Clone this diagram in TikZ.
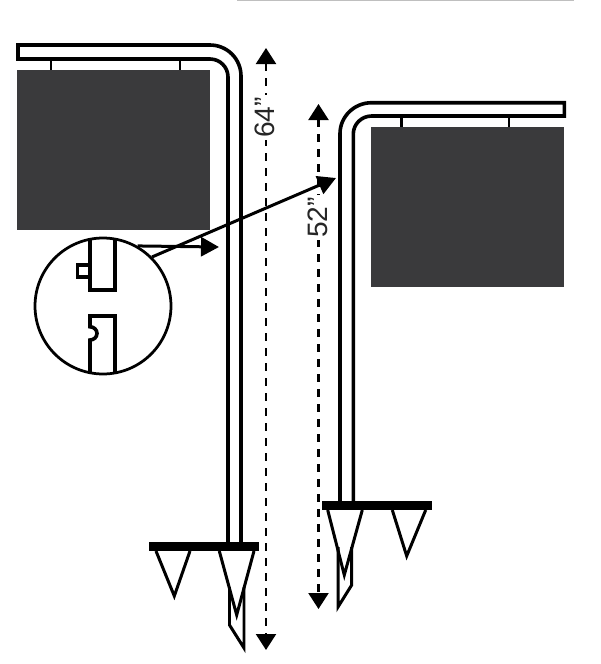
\documentclass[tikz,border=0pt]{standalone}
\usepackage{fontspec}
\setmainfont{Liberation Sans}
\usetikzlibrary{arrows.meta}
\definecolor{boardgray}{HTML}{3A3A3C}
\begin{document}
\begin{tikzpicture}
		[x=0.02cm,y=-0.02cm,
		pipe/.style={line width=0.072cm,black,line join=miter},
		hanger/.style={line width=0.05cm,black},
		spike/.style={line width=0.06cm,black,line join=miter},
		board/.style={rectangle,fill=boardgray,inner sep=0pt,minimum width=3.86cm,minimum height=3.2cm},
		plate/.style={rectangle,fill=black,inner sep=0pt,minimum width=2.2cm,minimum height=0.18cm},
		detail/.style={circle,draw=black,line width=0.055cm,inner sep=0pt,minimum size=2.72cm},
		dimline/.style={{Triangle[length=0.32cm,width=0.4cm]}-{Triangle[length=0.32cm,width=0.4cm]},line width=0.045cm,dash pattern=on 0.15cm off 0.15cm},
		dimtext/.style={rotate=90,fill=white,inner sep=1pt,text=black!85,font=\fontsize{16}{16}\selectfont},
		pointer/.style={-{Triangle[length=0.36cm,width=0.38cm]},line width=0.06cm,black}]
		\useasboundingbox (0,0) rectangle (600,664);
		\draw[black!25,line width=0.03cm] (237,0.5) -- (574,0.5);
		% left sign
		\node at (113.8,150) (boardL) [board] {};
		\draw[hanger] (51,59) -- (51,70);
		\draw[hanger] (180,59) -- (180,70);
		\draw[pipe] (228,543) -- (228,77) arc [start angle=0,end angle=90,x radius=18,y radius=-18] -- (18,59) -- (18,45) -- (210,45) arc [start angle=90,end angle=0,x radius=31,y radius=-31] -- (241,543);
		\node at (204.3,546.2) (plateL) [plate] {};
		\draw[spike] (229.5,587) -- (229.5,625) -- (244,648) -- (244,587);
		\draw[spike] (156,551) -- (174.3,596) -- (190,551);
		\draw[spike] (219.3,551) -- (236.7,615) -- (254,551);
		% right sign
		\node at (467.7,207.2) (boardR) [board] {};
		\draw[hanger] (401.7,116) -- (401.7,127);
		\draw[hanger] (509,116) -- (509,127);
		\draw[pipe] (353.3,502) -- (353.3,134) arc [start angle=180,end angle=90,x radius=18.4,y radius=-18] -- (564.3,116) -- (564.3,102.7) -- (371.7,102.7) arc [start angle=90,end angle=180,x radius=31.7,y radius=-31] -- (340,502);
		\node at (377.3,505.3) (plateR) [plate] {};
		\draw[spike] (338,547) -- (338,607) -- (351.7,585) -- (351.7,547);
		\draw[spike] (327.7,510) -- (344.3,575) -- (362.3,510);
		\draw[spike] (392.3,510) -- (406.7,556) -- (425.7,510);
		% heights
		\coordinate (topL) at (266,48);
		\coordinate (botL) at (266,650);
		\coordinate (topR) at (318.5,104);
		\coordinate (botR) at (318.5,609);
		\draw[dimline] (topL) -- (botL);
		\draw[dimline] (topR) -- (botR);
		\node at (265,117.5) (heightL) [dimtext] {64”};
		\node at (317.5,217.5) (heightR) [dimtext] {52”};
		% detail circle
		\node at (103,306) (detailC) [detail] {};
		\draw[pipe] (90,239.5) -- (90,290) -- (115,290) -- (115,239.5);
		\draw[pipe] (90,265) -- (77.5,265) -- (77.5,277) -- (90,277);
		\draw[pipe] (90,372.5) -- (90,340) arc [start angle=-90,end angle=90,x radius=7,y radius=-6.6] -- (90,316) -- (115,316) -- (115,372.5);
		\coordinate (tipA) at (219,247);
		\coordinate (tipB) at (336,178);
		\draw[pointer] (detailC.60) -- (tipA);
		\draw[pointer] (detailC.45) -- (tipB);
\end{tikzpicture}
\end{document}
